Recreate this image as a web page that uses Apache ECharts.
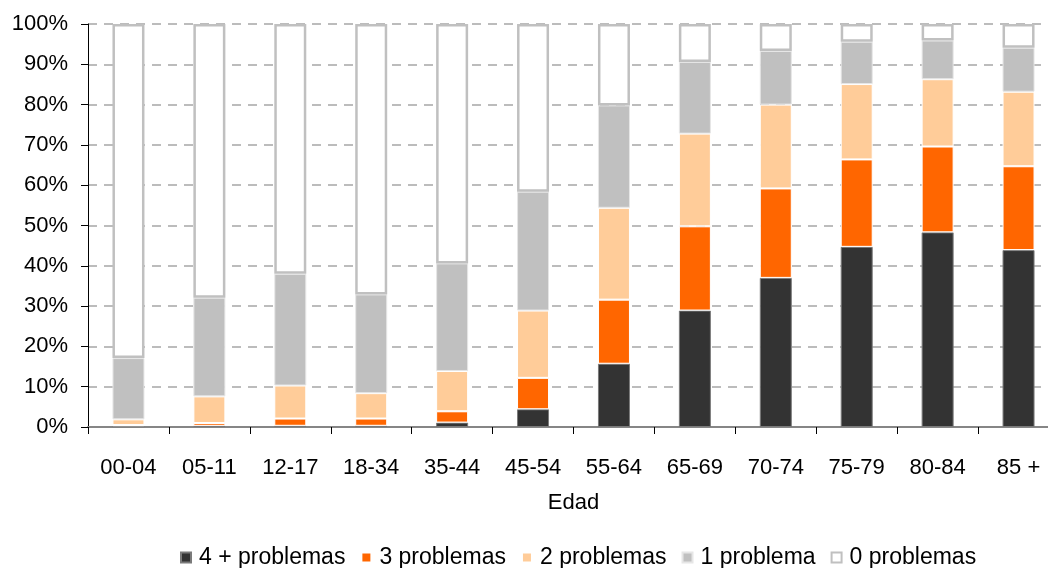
<!DOCTYPE html>
<html>
<head>
<meta charset="utf-8">
<script src="https://cdn.jsdelivr.net/npm/echarts@6/dist/echarts.min.js"></script>
<style>
html,body{margin:0;padding:0;background:#fff;}
#chart{width:1048px;height:568px;}
</style>
</head>
<body>
<div id="chart"></div>
<script>
const categories = ['00-04','05-11','12-17','18-34','35-44','45-54','55-64','65-69','70-74','75-79','80-84','85 +'];
const seriesNames = ['4 + problemas','3 problemas','2 problemas','1 problema','0 problemas'];
const p4 = [0.2, 0.3, 0.3, 0.3, 1.1, 4.4, 15.7, 28.9, 37.0, 44.7, 48.3, 43.9];
const p3 = [0.3, 0.7, 1.8, 1.8, 2.8, 7.8, 15.9, 20.9, 22.2, 21.7, 21.3, 20.8];
const p2 = [1.4, 6.6, 8.2, 6.3, 10.0, 16.7, 22.8, 23.0, 20.8, 18.7, 16.7, 18.5];
const p1 = [15.2, 24.5, 27.7, 24.5, 26.7, 29.5, 25.4, 17.8, 13.3, 10.5, 9.6, 10.9];
const p0 = [82.9, 67.9, 62.0, 67.1, 59.4, 41.6, 20.2, 9.4, 6.7, 4.4, 4.1, 5.9];
const yTicks = [0,10,20,30,40,50,60,70,80,90,100];

const colors = ['#333333','#ff6600','#ffcc99','#c0c0c0','#ffffff'];
const borders = [
  {color:'#7a7a7a', width:1},
  {color:'#ffffff', width:1},
  {color:'#ffffff', width:1},
  {color:'#e6e6e6', width:1},
  {color:'#c0c0c0', width:2.5}
];
const dataSets = [p4,p3,p2,p1,p0];

const FONT = '"Liberation Sans", Arial, sans-serif';

const chart = echarts.init(document.getElementById('chart'));
chart.setOption({
  animation: false,
  backgroundColor: '#ffffff',
  grid: {left: 88, width: 971, top: 24, height: 403, containLabel: false, outerBoundsMode: 'none'},
  legend: {
    data: seriesNames,
    left: 175,
    top: 541,
    icon: 'rect',
    itemWidth: 10,
    itemHeight: 10,
    itemGap: 15,
    textStyle: {fontFamily: FONT, fontSize: 23, color: '#000', padding: [0, 0, 0, 3]}
  },
  xAxis: {
    type: 'category',
    data: categories,
    name: 'Edad',
    nameLocation: 'middle',
    nameGap: 65,
    nameTextStyle: {fontFamily: FONT, fontSize: 22, color: '#000'},
    axisLine: {lineStyle: {color: '#868686', width: 2}},
    axisTick: {show: true, length: 7, lineStyle: {color: '#000', width: 1}},
    axisLabel: {fontFamily: FONT, fontSize: 22, color: '#000', margin: 30},
    splitLine: {show: false}
  },
  yAxis: {
    type: 'value',
    min: yTicks[0],
    max: yTicks[yTicks.length-1],
    interval: 10,
    axisLine: {show: true, lineStyle: {color: '#000', width: 1}},
    axisTick: {show: true, length: 7, lineStyle: {color: '#000'}},
    axisLabel: {fontFamily: FONT, fontSize: 22, color: '#000', margin: 20, formatter: '{value}%'},
    splitLine: {show: true, lineStyle: {color: '#a6a6a6', width: 1.5, type: [9, 7]}}
  },
  series: seriesNames.map((name, i) => ({
    name: name,
    type: 'bar',
    stack: 'total',
    barWidth: 32,
    data: dataSets[i],
    itemStyle: {color: colors[i], borderColor: borders[i].color, borderWidth: borders[i].width},
    emphasis: {disabled: true}
  }))
});
</script>
</body>
</html>
